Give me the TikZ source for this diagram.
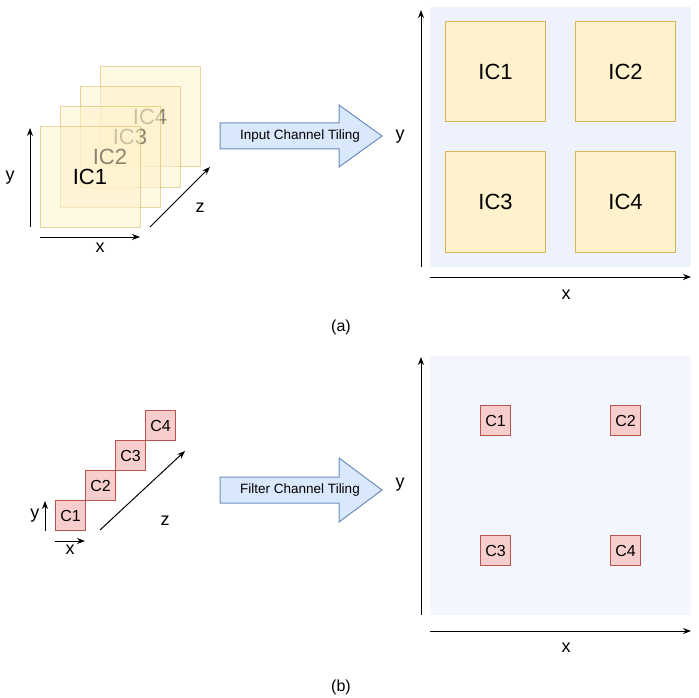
\documentclass[tikz,border=0pt]{standalone}
\usepackage{fontspec}
\setmainfont{Liberation Sans}
\usetikzlibrary{arrows.meta}
\definecolor{tilefill}{HTML}{FFF2CC}
\definecolor{tileline}{HTML}{D6B656}
\definecolor{chanfill}{HTML}{F8CECC}
\definecolor{chanline}{HTML}{B85450}
\definecolor{tilingfill}{HTML}{DAE8FC}
\definecolor{tilingline}{HTML}{6C8EBF}
\definecolor{gridtop}{HTML}{EDF2FC}
\definecolor{gridbot}{HTML}{F3F6FD}
\begin{document}
\begin{tikzpicture}[x=1pt,y=-1pt,line width=1pt,
  tile/.style={draw=tileline,fill=tilefill,minimum size=100pt,inner sep=0pt,font=\fontsize{22}{26}\selectfont},
  layer/.style={tile,opacity=0.55,text opacity=1},
  chan/.style={draw=chanline,fill=chanfill,minimum size=30pt,inner sep=0pt,font=\fontsize{16}{19}\selectfont},
  axis/.style={-{Stealth[length=8pt,width=6pt]}},
  axlabel/.style={font=\fontsize{18}{21}\selectfont},
  tiling/.style={draw=tilingline,fill=tilingfill},
  tilingtext/.style={font=\fontsize{13.5}{16}\selectfont}]
\useasboundingbox (0,0) rectangle (699,698);

\node[layer] (l4) at (150,117) {IC4};
\node[layer] (l3) at (130,137) {IC3};
\node[layer] (l2) at (110,157) {IC2};
\node[layer] (l1) at (90,177) {IC1};

\coordinate (ya0) at (30,227); \coordinate (ya1) at (30,128);
\coordinate (xa0) at (40,237); \coordinate (xa1) at (140,237);
\coordinate (za0) at (150,227); \coordinate (za1) at (210,167);
\draw[axis] (ya0) -- (ya1);
\draw[axis] (xa0) -- (xa1);
\draw[axis] (za0) -- (za1);
\node[axlabel] (ya) at (10,178) {y};
\node[axlabel] (xa) at (100,248) {x};
\node[axlabel] (za) at (200,208) {z};

\draw[tiling] (220,123) -- (339,123) -- (339,105) -- (382,136) -- (339,167) -- (339,149) -- (220,149) -- cycle;
\node[tilingtext] (tilinga) at (300,136) {Input Channel Tiling};

\fill[gridtop] (430,7) rectangle (691,267);
\node[tile] (ic1) at (495.5,72) {IC1};
\node[tile] (ic2) at (625.5,72) {IC2};
\node[tile] (ic3) at (495.5,202) {IC3};
\node[tile] (ic4) at (625.5,202) {IC4};
\coordinate (yb0) at (421,267); \coordinate (yb1) at (421,10);
\coordinate (xb0) at (430,277); \coordinate (xb1) at (691,277);
\draw[axis] (yb0) -- (yb1);
\draw[axis] (xb0) -- (xb1);
\node[axlabel] (yb) at (400,137) {y};
\node[axlabel] (xb) at (566,295) {x};

\node[font=\fontsize{16}{19}\selectfont] (capa) at (341,327) {(a)};

\node[chan] (c1) at (70.5,515.5) {C1};
\node[chan] (c2) at (100.5,485.5) {C2};
\node[chan] (c3) at (130.5,455.5) {C3};
\node[chan] (c4) at (160.5,425.5) {C4};
\coordinate (yc0) at (45,531); \coordinate (yc1) at (45,501);
\coordinate (xc0) at (55,541); \coordinate (xc1) at (85,541);
\coordinate (zc0) at (100,530); \coordinate (zc1) at (185,451);
\draw[axis] (yc0) -- (yc1);
\draw[axis] (xc0) -- (xc1);
\draw[axis] (zc0) -- (zc1);
\node[axlabel] (yc) at (35,516) {y};
\node[axlabel] (xc) at (70,550) {x};
\node[axlabel] (zc) at (165,521) {z};

\draw[tiling] (220,477) -- (339,477) -- (339,458) -- (382,490) -- (339,522) -- (339,503) -- (220,503) -- cycle;
\node[tilingtext] (tilingb) at (300,490) {Filter Channel Tiling};

\fill[gridbot] (430,356) rectangle (691,615);
\node[chan] (f1) at (495.5,420.5) {C1};
\node[chan] (f2) at (625.5,420.5) {C2};
\node[chan] (f3) at (495.5,550.5) {C3};
\node[chan] (f4) at (625.5,550.5) {C4};
\coordinate (yd0) at (421,615); \coordinate (yd1) at (421,357);
\coordinate (xd0) at (430,631); \coordinate (xd1) at (691,631);
\draw[axis] (yd0) -- (yd1);
\draw[axis] (xd0) -- (xd1);
\node[axlabel] (yd) at (400,485) {y};
\node[axlabel] (xd) at (566,648) {x};

\node[font=\fontsize{16}{19}\selectfont] (capb) at (341,687) {(b)};
\end{tikzpicture}
\end{document}
